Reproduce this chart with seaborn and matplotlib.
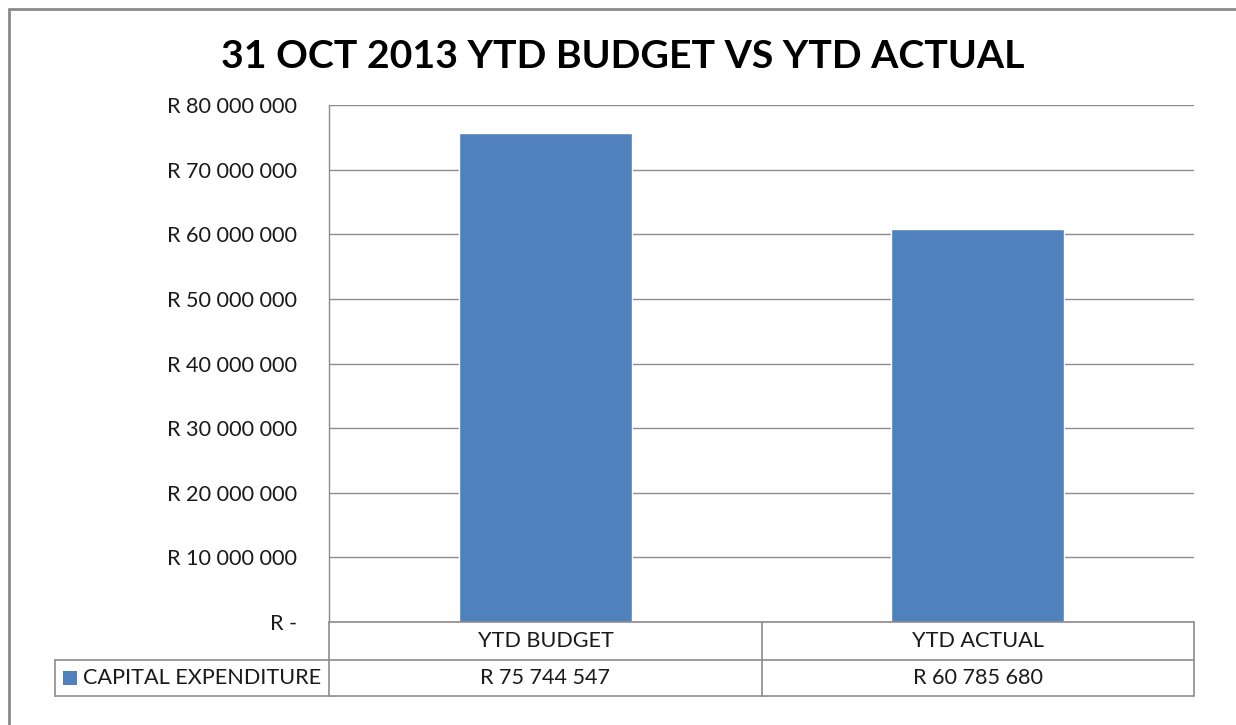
import matplotlib
matplotlib.use("Agg")
import matplotlib.pyplot as plt
import pandas as pd
import seaborn as sns
from matplotlib.lines import Line2D
from matplotlib.patches import Rectangle
from matplotlib.ticker import FuncFormatter, MultipleLocator

# Data
categories = ["YTD BUDGET", "YTD ACTUAL"]
values = [75744547, 60785680]
series_name = "CAPITAL EXPENDITURE"
title = "31 OCT 2013 YTD BUDGET VS YTD ACTUAL"

BAR = "#4F81BD"
GRID = "#8C8C8C"
TXT = "#1a1a1a"
FS = 15.6

sns.set_theme(style="white")
plt.rcParams["font.family"] = ["Lato", "DejaVu Sans"]

W, H = 1236, 725
fig = plt.figure(figsize=(W / 100, H / 100), dpi=100)

def fx(px):
    return px / W

def fy(py):
    return 1 - py / H

# plot area
left, right, top, bottom = 329, 1194, 105, 622
ax = fig.add_axes([fx(left), fy(bottom), fx(right - left), (bottom - top) / H])

df = pd.DataFrame({"cat": categories, "val": values})
sns.barplot(data=df, x="cat", y="val", color=BAR, width=0.4, saturation=1, ax=ax)

ax.set_xlim(-0.5, 1.5)
ax.set_ylim(0, 80000000)
ax.yaxis.set_major_locator(MultipleLocator(10000000))

def rand(v, pos):
    if v == 0:
        return "R -"
    return "R " + f"{int(v):,}".replace(",", " ")

ax.yaxis.set_major_formatter(FuncFormatter(rand))
ax.tick_params(axis="y", labelsize=FS, colors=TXT, length=0, pad=23)
ax.set_xticks([])
ax.set_xlabel("")
ax.set_ylabel("")
ax.grid(axis="y", color=GRID, linewidth=1.0)
ax.set_axisbelow(True)
for s in ["top", "right", "bottom"]:
    ax.spines[s].set_visible(False)
ax.spines["left"].set_color(GRID)
ax.spines["left"].set_linewidth(1.0)

# data table below the axis
row1, row2, row3 = 622, 660, 696
leg_left, mid = 55, 762
lw = 1.2
def hline(y, x0, x1):
    fig.add_artist(Line2D([fx(x0), fx(x1)], [fy(y), fy(y)], color=GRID, lw=lw))

def vline(x, y0, y1):
    fig.add_artist(Line2D([fx(x), fx(x)], [fy(y0), fy(y1)], color=GRID, lw=lw))

hline(row1, left, right)
hline(row2, leg_left, right)
hline(row3, leg_left, right)
vline(left, row1, row3)
vline(mid, row1, row3)
vline(right, row1, row3)
vline(leg_left, row2, row3)

col_centers = [(left + mid) / 2, (mid + right) / 2]
for cx, cat, val in zip(col_centers, categories, values):
    fig.text(fx(cx), fy((row1 + row2) / 2), cat, ha="center", va="center",
             fontsize=FS, color=TXT)
    fig.text(fx(cx), fy((row2 + row3) / 2), rand(val, None), ha="center",
             va="center", fontsize=FS, color=TXT)

fig.add_artist(Rectangle((fx(63), fy(685)), fx(14), 14 / H, color=BAR, lw=0))
fig.text(fx(83), fy((row2 + row3) / 2), series_name, ha="left", va="center",
         fontsize=FS, color=TXT)

# title
fig.text(fx(623), fy(56), title, ha="center", va="center", fontsize=28.3,
         fontweight="bold", color="black")

# outer chart frame
fig.add_artist(Line2D([fx(8.5), fx(8.5)], [fy(8.5), -0.05], color="#8a8a8a", lw=2))
fig.add_artist(Line2D([fx(8.5), 1.05], [fy(8.5), fy(8.5)], color="#8a8a8a", lw=2))

fig.savefig("out.png", dpi=100, facecolor="white")
